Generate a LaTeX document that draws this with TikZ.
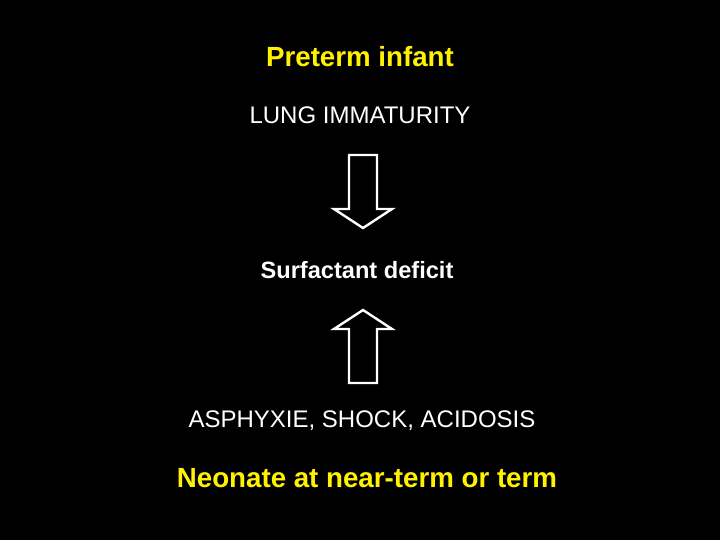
\documentclass[tikz,border=0pt]{standalone}
\usepackage{fontspec}
\setmainfont{Liberation Sans}
\usetikzlibrary{positioning}
\tikzset{
	blockarrow/.pic = {
	 \coordinate (-tip) at (0,37) ;
	 \coordinate (-tail) at (0,-36) ;
	 \draw [line width=2.4pt, line join=miter] (-14,-36) -- (14,-36) -- (14,18) -- (29,18) -- (0,37) -- (-29,18) -- (-14,18) -- cycle;
	 }}
\tikzset{
	yellowtitle/.style = {text=yellow, font=\fontsize{27.7}{32}\selectfont\bfseries},
	whitetext/.style = {text=white, font=\fontsize{24}{28}\selectfont},
	whitebold/.style = {text=white, font=\fontsize{23.6}{28}\selectfont\bfseries},
}

\begin{document}
\begin{tikzpicture}[x=1pt, y=-1pt, draw=white, line width=1pt]
\fill [black] (0,0) rectangle (720,540);
\useasboundingbox (0,0) rectangle (720,540);

% TEXTS
\node (preterm) [yellowtitle] at (360,57) {Preterm infant};
\node (immaturity) [whitetext] at (360,115) {LUNG IMMATURITY};
\node (deficit) [whitebold] at (357,270) {Surfactant deficit};
\node (asphyxie) [whitetext] at (362,421) {ASPHYXIE, SHOCK, ACIDOSIS};
\node (neonate) [yellowtitle] at (367,478) {Neonate at near-term or term};

% ARROWS
\pic (downarrow) at (363,191) {blockarrow};
\pic (uparrow) [yscale=-1] at (363,347) {blockarrow};

\end{tikzpicture}
\end{document}
